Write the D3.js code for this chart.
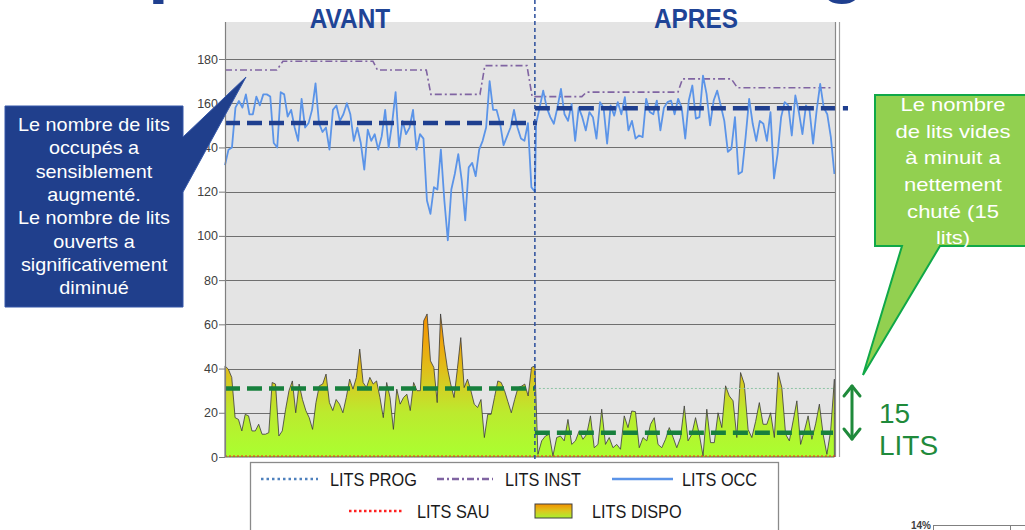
<!DOCTYPE html>
<html><head><meta charset="utf-8">
<script src="https://cdn.jsdelivr.net/npm/d3@7"></script>
<style>
html,body{margin:0;padding:0;background:#fff;overflow:hidden}
svg{display:block}
</style></head><body>
<svg id="c" width="1025" height="530"></svg>
<script>
// ---------- data ----------
const yTicks = [0,20,40,60,80,100,120,140,160,180];
const periodLabels = ["AVANT","APRES"];
const periodStart = [0, 101.6];
const periodEnd = [101.6, 200];

const occBefore = [132,139,140,158,161,158,164,155,155,163,
  159,164,164,163,142,140,165,164,154,157,
  149,143,162,149,151,157,169,151,147,149,
  139,157,159,152,155,160,155,143,149,142,
  130,148,143,146,139,145,157,140,151,165,
  140,152,146,149,157,139,146,144,116,110,
  122,121,139,116,98,121,128,137,125,107,
  131,133,127,139,143,149,170,157,157,151,
  141,145,149,157,149,144,143,151,122,120];
const occAfter = [150.7,158,165.7,158,153.7,150.7,158,166.5,155,152,
  159.7,143,158,153.7,147.7,156,153.7,144,160.5,158,
  141.7,159,154.4,160.5,155,162.7,147.7,152,144,145.4,
  144.7,162,156,155,161.2,147.7,158,160.5,161.2,155,
  162,158,144,161.2,168,153,153.7,172.5,164.2,150,
  161.2,165.7,159,152,138,139.4,153.7,128,129,144.7,
  162,150.7,143,152,150.7,143,156,126,137,153.7,
  160.5,159,145.4,163.5,156,146,159,156.7,141.7,156.7,
  168.7,158,155,144.7,128];
const dispoBefore = [41.2,39.7,36,17.8,17,11.8,19.3,18.6,11.8,11.8,
  14.8,10.3,10.3,11,33.7,33,9.5,11.8,21.6,30,
  34.4,20,33,26,21,17.8,12.5,24.6,32.2,33,
  37.5,24.6,21,26,23.9,20,26.9,35.2,30.7,36,
  48.8,33.7,31.4,36,33,34.4,26.9,17.8,33.7,26.9,
  12.5,30.7,23.9,26.9,28.4,21,33.7,30,30,61.6,
  64.7,43.5,40.5,24.6,64.7,51,40.5,33,26.9,40,
  54,31.4,35.2,30,23.9,22.4,26,8.8,19.3,19.3,
  26.9,34.4,33.7,30,25,20,26,31.4,32,33,
  27.6,40.5,41.2];
const dispoAfter = [1.2,7.3,9.5,10.3,0.5,8.8,9.5,7.3,17,5.7,
  7.3,11.8,8,10.3,18.6,4.2,5.7,21.6,5.7,8.8,
  4.2,5.7,3.5,18.6,13.3,20.8,20.5,4.2,8.8,7.3,
  14.8,17.8,5.7,4.2,8,13.3,9,4.2,8.8,23.1,
  7.3,10.3,17.8,10.3,0.5,21.6,6.5,6.5,20,13.3,
  32.2,27.6,25.4,8.8,38.2,33,12.5,8.8,16,24.6,
  14.8,14.8,20,8.8,38.2,31.4,10.3,7.3,16.3,25.4,
  5.7,11.8,18.6,8,15,23.9,10.3,1.2,11.8,35.2];
const instDays   = [0,17,19,48.5,50,66,67.5,83.6,85.2,99,100.7,117,118.5,148.5,150,166,168,199.3];
const instValues = [175,175,179,179,175,175,164,164,177,177,163,163,165,165,171,171,167,167];
const occAvg = [151, 157.7];
const dispoAvg = [31, 11];
const sauValues = [0, 0];
const legendLabels = ["LITS PROG","LITS INST","LITS OCC","LITS SAU","LITS DISPO"];
const leftNote = ["Le nombre de lits","occupés a","sensiblement","augmenté.","Le nombre de lits","ouverts a","significativement","diminué"];
const rightNote = ["Le nombre","de lits vides","à minuit a","nettement","chuté (15","lits)"];
const gapLabel = ["15","LITS"];
const titleText = "Impact sur les lits en gériatrie";

// ---------- setup ----------
const svg = d3.select("#c");
const FONT = "'Liberation Sans', Arial, sans-serif";
const x = d3.scaleLinear().domain([0, 200]).range([225, 835]);
const y = d3.scaleLinear().domain([0, 180]).range([457, 59]);

function spread(arr, a, b) {
  return arr.map((v, i) => ({d: a + i * (b - a) / (arr.length - 1), v}));
}
const occPts = spread(occBefore, 0, 101.6).concat(spread(occAfter, 102, 199.8));
const dispoPts = spread(dispoBefore, 0, 101.6).concat(spread(dispoAfter, 102.6, 199.8));
const instPts = instDays.map((d, i) => ({d, v: instValues[i]}));

const defs = svg.append("defs");
const grad = defs.append("linearGradient").attr("id", "gDispo")
  .attr("gradientUnits", "userSpaceOnUse")
  .attr("x1", 0).attr("x2", 0).attr("y1", y(65)).attr("y2", y(0));
[[0,"#f39000"],[0.23,"#ecaa10"],[0.385,"#e0be1a"],[0.54,"#cfd426"],[0.69,"#bcea2e"],[1,"#aaff30"]]
  .forEach(s => grad.append("stop").attr("offset", s[0]).attr("stop-color", s[1]));
const grad2 = defs.append("linearGradient").attr("id", "gLeg")
  .attr("x1", 0).attr("x2", 0).attr("y1", 0).attr("y2", 1);
[[0,"#f39000"],[0.5,"#dcc81e"],[1,"#a8f030"]]
  .forEach(s => grad2.append("stop").attr("offset", s[0]).attr("stop-color", s[1]));

// title (mostly cut off at the top)
const title = svg.append("text").attr("font-family", FONT).attr("font-weight", "bold")
  .attr("font-size", 64).attr("fill", "#1f3f8f").attr("x", 0).attr("y", -11).text(titleText);
(function(){
  const n = title.node();
  const pi = titleText.indexOf("p"), gi = titleText.indexOf("g");
  let px = n.getStartPositionOfChar(pi).x, gx = n.getStartPositionOfChar(gi).x;
  const fs = 64 * (820 - 148) / (gx - px);
  title.attr("font-size", fs);
  px = n.getStartPositionOfChar(pi).x;
  title.attr("x", 148 - px);
})();

// plot background
svg.append("rect").attr("x", x(0)).attr("y", 22).attr("width", x(200) - x(0)).attr("height", y(0) - 22)
  .attr("fill", "#e4e4e4");

// gridlines
svg.append("g").selectAll("line").data(yTicks.filter(t => t > 0)).join("line")
  .attr("x1", x(0)).attr("x2", x(200))
  .attr("y1", d => Math.round(y(d)) + 0.5).attr("y2", d => Math.round(y(d)) + 0.5)
  .attr("stroke", "#6f6f6f").attr("stroke-width", 1);

// DISPO area
svg.append("path").datum(dispoPts)
  .attr("d", d3.area().x(d => x(d.d)).y0(y(0)).y1(d => y(d.v)))
  .attr("fill", "url(#gDispo)").attr("stroke", "#3a3a3a").attr("stroke-width", 0.8);

// reference dotted (before average carried into after period)
svg.append("line").attr("x1", x(periodStart[1]) + 4).attr("x2", x(200))
  .attr("y1", y(dispoAvg[0])).attr("y2", y(dispoAvg[0]))
  .attr("stroke", "#8cc4a4").attr("stroke-width", 1).attr("stroke-dasharray", "2,2");

// green averages
dispoAvg.forEach((v, i) => {
  svg.append("line").attr("x1", x(periodStart[i])).attr("x2", x(periodEnd[i]) - (i ? 2 : 0))
    .attr("y1", y(v)).attr("y2", y(v))
    .attr("stroke", "#17803d").attr("stroke-width", 4.5).attr("stroke-dasharray", "15,7");
});

// SAU
svg.append("line").attr("x1", x(0)).attr("x2", x(200)).attr("y1", y(sauValues[0]) - 1).attr("y2", y(sauValues[1]) - 1)
  .attr("stroke", "#ff2020").attr("stroke-width", 1.2).attr("stroke-dasharray", "2,2");

// INST
svg.append("path").datum(instPts)
  .attr("d", d3.line().x(d => x(d.d)).y(d => y(d.v)))
  .attr("fill", "none").attr("stroke", "#8064a2").attr("stroke-width", 1.6)
  .attr("stroke-dasharray", "7,3,2,3");

// OCC
svg.append("path").datum(occPts)
  .attr("d", d3.line().x(d => x(d.d)).y(d => y(d.v)))
  .attr("fill", "none").attr("stroke", "#5b94e8").attr("stroke-width", 1.8).attr("stroke-linejoin", "round");

// blue averages
occAvg.forEach((v, i) => {
  svg.append("line").attr("x1", x(periodStart[i])).attr("x2", x(periodEnd[i]) + (i ? 13 : 2))
    .attr("y1", y(v)).attr("y2", y(v))
    .attr("stroke", "#1f3f8f").attr("stroke-width", 4.5).attr("stroke-dasharray", "15,7");
});

// period separator
svg.append("line").attr("x1", x(periodStart[1])).attr("x2", x(periodStart[1])).attr("y1", 0).attr("y2", 463)
  .attr("stroke", "#2a4d9b").attr("stroke-width", 1.5).attr("stroke-dasharray", "4,3");

// axis
const ax = svg.append("g").attr("transform", `translate(${x(0)},0)`)
  .call(d3.axisLeft(y).tickValues(yTicks).tickSize(6).tickPadding(1));
ax.select(".domain").remove();
ax.selectAll(".tick line").attr("stroke", "#7a7a7a");
ax.selectAll(".tick text").attr("font-family", FONT).attr("font-size", 12.5).attr("fill", "#404040");
svg.append("line").attr("x1", x(0) + 0.5).attr("x2", x(0) + 0.5).attr("y1", 22).attr("y2", y(0))
  .attr("stroke", "#808080").attr("stroke-width", 1.2);
svg.append("line").attr("x1", x(200) + 0.5).attr("x2", x(200) + 0.5).attr("y1", 22).attr("y2", y(0))
  .attr("stroke", "#8a8a8a").attr("stroke-width", 1.2);
svg.append("line").attr("x1", x(200) + 4.5).attr("x2", x(200) + 4.5).attr("y1", 22).attr("y2", y(0))
  .attr("stroke", "#a0a0a0").attr("stroke-width", 1.2);

// period labels
const labelX = [350, 696];
periodLabels.forEach((t, i) => {
  svg.append("text").attr("transform", `translate(${labelX[i]},28) scale(1,1.15)`)
    .attr("text-anchor", "middle")
    .attr("font-family", FONT).attr("font-weight", "bold").attr("font-size", 24.4)
    .attr("fill", "#1f4496").text(t);
});

// left callout
svg.append("path").attr("d", "M5,106 H183 V137 L246,77 L183,192 V307 H5 Z")
  .attr("fill", "#203f8c").attr("stroke", "#3557a8").attr("stroke-width", 1);
leftNote.forEach((t, i) => {
  svg.append("text").attr("transform", `translate(94,${131 + i * 23.33}) scale(1.1,1)`)
    .attr("text-anchor", "middle")
    .attr("font-family", FONT).attr("font-size", 18).attr("fill", "#ffffff").text(t);
});

// right callout
svg.append("path").attr("d", "M875,95 H1030 V246 H940 L863,375 L902,246 H875 Z")
  .attr("fill", "#92d050").attr("stroke", "#10a848").attr("stroke-width", 2);
rightNote.forEach((t, i) => {
  svg.append("text").attr("transform", `translate(953,${111 + i * 26.67}) scale(1.19,1)`)
    .attr("text-anchor", "middle").attr("font-family", FONT).attr("font-size", 18.5)
    .attr("fill", "#ffffff").text(t);
});

// gap arrow + label
const gArr = svg.append("g").attr("stroke", "#1f8a3b").attr("stroke-width", 3).attr("fill", "none")
  .attr("stroke-linecap", "round").attr("stroke-linejoin", "round");
gArr.append("line").attr("x1", 852).attr("x2", 852).attr("y1", 386).attr("y2", 439);
gArr.append("path").attr("d", "M844,396 L852,386 L860,396");
gArr.append("path").attr("d", "M844,429 L852,439 L860,429");
gapLabel.forEach((t, i) => {
  svg.append("text").attr("x", 879).attr("y", 423 + i * 32).attr("font-family", FONT)
    .attr("font-size", 28).attr("fill", "#1f8a3b").text(t);
});

// legend
const lg = svg.append("g");
lg.append("rect").attr("x", 250.5).attr("y", 462.5).attr("width", 528).attr("height", 80)
  .attr("fill", "#fff").attr("stroke", "#8a8a8a").attr("stroke-width", 1.3);
const legItems = [
  {x1: 261, x2: 318, y: 479, tx: 330, ty: 486, color: "#4f81bd", dash: "2.5,3", w: 2.5},
  {x1: 437, x2: 493, y: 479, tx: 505, ty: 486, color: "#8064a2", dash: "7,3,2,3", w: 2.5},
  {x1: 612, x2: 673, y: 479, tx: 682, ty: 486, color: "#5b94e8", dash: null, w: 2.5},
  {x1: 349, x2: 404, y: 511, tx: 417, ty: 518, color: "#ff2020", dash: "2.5,2.5", w: 2.5},
  {x1: 535, x2: 572, y: 511, tx: 592, ty: 518, swatch: true}
];
legItems.forEach((it, i) => {
  if (it.swatch) {
    lg.append("rect").attr("x", it.x1).attr("y", 504).attr("width", it.x2 - it.x1).attr("height", 14)
      .attr("fill", "url(#gLeg)").attr("stroke", "#404040").attr("stroke-width", 1);
  } else {
    const l = lg.append("line").attr("x1", it.x1).attr("x2", it.x2).attr("y1", it.y).attr("y2", it.y)
      .attr("stroke", it.color).attr("stroke-width", it.w);
    if (it.dash) l.attr("stroke-dasharray", it.dash);
  }
  lg.append("text").attr("transform", `translate(${it.tx},${it.ty}) scale(1,1.18)`)
    .attr("font-family", FONT)
    .attr("font-size", 16.3).attr("fill", "#1a1a1a").text(legendLabels[i]);
});

// small fragment bottom-right
svg.append("text").attr("x", 931).attr("y", 529).attr("text-anchor", "end").attr("font-family", FONT)
  .attr("font-size", 10).attr("font-weight", "bold").attr("fill", "#404040").text("14%");
svg.append("line").attr("x1", 933).attr("x2", 1025).attr("y1", 525.5).attr("y2", 525.5).attr("stroke", "#808080");
svg.append("line").attr("x1", 933.5).attr("x2", 933.5).attr("y1", 525).attr("y2", 530).attr("stroke", "#808080");
svg.append("line").attr("x1", 1010.5).attr("x2", 1010.5).attr("y1", 525).attr("y2", 530).attr("stroke", "#808080");
</script>
</body></html>
